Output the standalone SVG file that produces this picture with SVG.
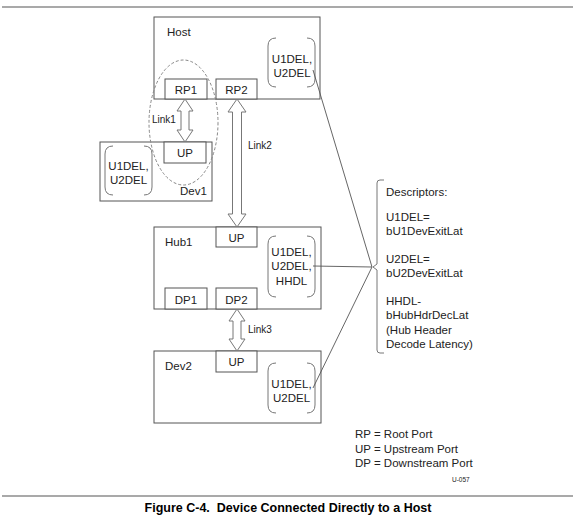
<svg xmlns="http://www.w3.org/2000/svg" width="576" height="519" viewBox="0 0 576 519">
<style>
text{font-family:"Liberation Sans",Arial,sans-serif;font-size:11.5px;fill:#222}
.box{fill:#fff;stroke:#555;stroke-width:1}
.port{fill:#fff;stroke:#555;stroke-width:1}
.br{fill:none;stroke:#777;stroke-width:1}
.arr{fill:#fff;stroke:#777;stroke-width:1}
.ln{fill:none;stroke:#555;stroke-width:0.9}
.rule{stroke:#555;stroke-width:1.2}
.c{text-anchor:middle}
.lk{font-size:10px}
</style>
<rect width="576" height="519" fill="#fff"/>
<line class="rule" x1="2" y1="7" x2="573" y2="7"/>
<line class="rule" x1="2" y1="496" x2="573" y2="496"/>

<g id="host">
<rect class="box" x="154" y="17" width="166" height="82"/>
<text x="167" y="36">Host</text>
<path class="br" d="M276,38 Q268,38 268,46 V79 Q268,87 276,87 M307,38 Q315,38 315,46 V79 Q315,87 307,87"/>
<text class="c" x="292" y="63">U1DEL,</text>
<text class="c" x="292" y="77">U2DEL</text>
</g>
<g id="rp1">
<rect class="port" x="165" y="79" width="42" height="20"/>
<text class="c" x="186" y="94">RP1</text>
</g>
<g id="rp2">
<rect class="port" x="216" y="79" width="41" height="20"/>
<text class="c" x="236.5" y="94">RP2</text>
</g>

<g id="dev1">
<rect class="box" x="100" y="142" width="112" height="59"/>
<path class="br" d="M113,146 Q105,146 105,154 V187 Q105,195 113,195 M144,146 Q152,146 152,154 V187 Q152,195 144,195"/>
<text class="c" x="128.5" y="170">U1DEL,</text>
<text class="c" x="128.5" y="184">U2DEL</text>
<text x="180" y="195">Dev1</text>
</g>
<g id="dev1-up">
<rect class="port" x="164" y="142" width="42" height="21"/>
<text class="c" x="185" y="157">UP</text>
</g>

<g id="hub1">
<rect class="box" x="154" y="227" width="167" height="82"/>
<text x="165" y="246">Hub1</text>
<path class="br" d="M276,236 Q268,236 268,244 V289 Q268,297 276,297 M307,236 Q315,236 315,244 V289 Q315,297 307,297"/>
<text class="c" x="291.5" y="256">U1DEL,</text>
<text class="c" x="291.5" y="270">U2DEL,</text>
<text class="c" x="291.5" y="285">HHDL</text>
</g>
<g id="hub1-up">
<rect class="port" x="216" y="227" width="41" height="20"/>
<text class="c" x="236.5" y="242">UP</text>
</g>
<g id="dp1">
<rect class="port" x="165" y="288" width="42" height="21"/>
<text class="c" x="186" y="304">DP1</text>
</g>
<g id="dp2">
<rect class="port" x="216" y="288" width="41" height="21"/>
<text class="c" x="236.5" y="304">DP2</text>
</g>

<g id="dev2">
<rect class="box" x="154" y="351" width="167" height="72"/>
<text x="165" y="370">Dev2</text>
<path class="br" d="M276,363 Q268,363 268,371 V405 Q268,413 276,413 M307,363 Q315,363 315,371 V405 Q315,413 307,413"/>
<text class="c" x="291.5" y="388">U1DEL,</text>
<text class="c" x="291.5" y="402">U2DEL</text>
</g>
<g id="dev2-up">
<rect class="port" x="216" y="351" width="41" height="21"/>
<text class="c" x="236.5" y="366">UP</text>
</g>

<g id="descriptors">
<path class="br" d="M384,180 H380 Q377,180 377,183 V264 L373,267 L377,270 V350 Q377,353 380,353 H384"/>
<text x="386" y="196">Descriptors:</text>
<text x="386" y="221">U1DEL=</text>
<text x="386" y="235">bU1DevExitLat</text>
<text x="386" y="263">U2DEL=</text>
<text x="386" y="277">bU2DevExitLat</text>
<text x="386" y="305">HHDL-</text>
<text x="386" y="319">bHubHdrDecLat</text>
<text x="386" y="334">(Hub Header</text>
<text x="386" y="348">Decode Latency)</text>
</g>

<g id="connectors">
<ellipse cx="183.5" cy="122.5" rx="34.5" ry="62.5" fill="none" stroke="#888" stroke-width="1" stroke-dasharray="3,2"/>
<path class="arr" d="M185,99 L193,111 L189,111 L189,130 L193,130 L185,142 L177,130 L181,130 L181,111 L177,111 Z"/>
<path class="arr" d="M237,99 L246,112 L241.5,112 L241.5,214 L246,214 L237,227 L228,214 L232.5,214 L232.5,112 L228,112 Z"/>
<path class="arr" d="M237,309 L245,321 L241,321 L241,339 L245,339 L237,351 L229,339 L233,339 L233,321 L229,321 Z"/>
<line class="ln" x1="313" y1="70" x2="372" y2="267"/>
<line class="ln" x1="313" y1="266" x2="372" y2="267"/>
<line class="ln" x1="313" y1="388" x2="372" y2="267"/>
<text class="lk" x="152" y="123">Link1</text>
<text class="lk" x="248" y="149">Link2</text>
<text class="lk" x="248" y="333">Link3</text>
</g>

<g id="legend">
<text x="355" y="438">RP = Root Port</text>
<text x="355" y="453">UP = Upstream Port</text>
<text x="355" y="467">DP = Downstream Port</text>
<text x="452" y="482" style="font-size:6.5px">U-057</text>
</g>
<text x="288" y="512" class="c" style="font-size:12.5px;font-weight:bold;fill:#000">Figure C-4.&#160; Device Connected Directly to a Host</text>
</svg>
